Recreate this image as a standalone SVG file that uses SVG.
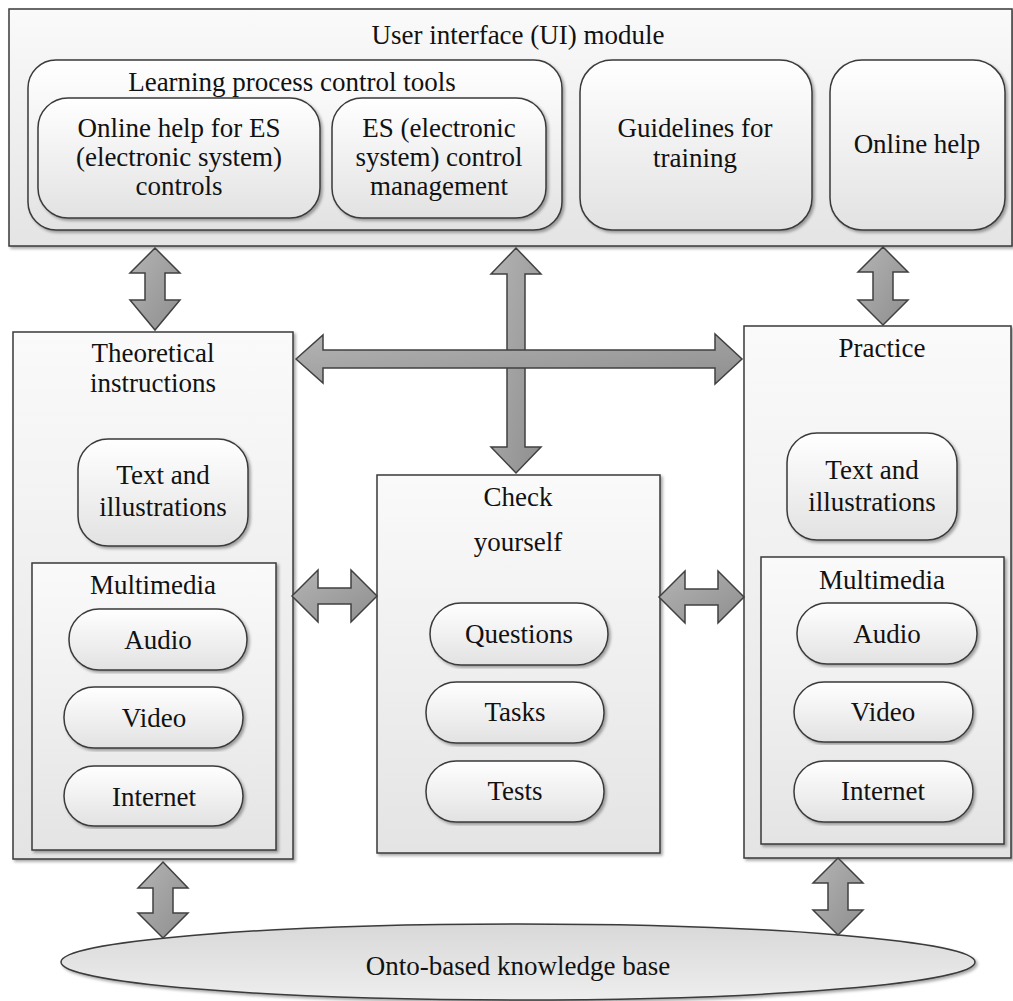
<svg xmlns="http://www.w3.org/2000/svg" width="1013" height="1001" viewBox="0 0 1013 1001">
<defs>
<linearGradient id="g" x1="0" y1="0" x2="0" y2="1">
<stop offset="0" stop-color="#fafafa"/>
<stop offset="1" stop-color="#e4e4e4"/>
</linearGradient>
<linearGradient id="gp" x1="0" y1="0" x2="0" y2="1">
<stop offset="0" stop-color="#ffffff"/>
<stop offset="1" stop-color="#e2e2e2"/>
</linearGradient>
<linearGradient id="ga" x1="0" y1="0" x2="1" y2="1">
<stop offset="0" stop-color="#b4b4b4"/>
<stop offset="1" stop-color="#8e8e8e"/>
</linearGradient>
<linearGradient id="ge" x1="0" y1="0" x2="0" y2="1">
<stop offset="0" stop-color="#d8d8d8"/>
<stop offset="1" stop-color="#eeeeee"/>
</linearGradient>
<filter id="sh" x="-5%" y="-5%" width="110%" height="110%">
<feDropShadow dx="2" dy="2" stdDeviation="1.5" flood-color="#000" flood-opacity="0.35"/>
</filter>
</defs>
<style>
.box{fill:url(#g);stroke:#3a3a3a;stroke-width:1.5;filter:url(#sh)}
.pill{fill:url(#gp);stroke:#3a3a3a;stroke-width:1.5;filter:url(#sh)}
.arr{fill:url(#ga);stroke:#404040;stroke-width:1.5;stroke-linejoin:miter}
svg text.t{font-family:'Liberation Serif','Times New Roman',serif;font-size:27px;fill:#111;text-anchor:middle}
</style>
<rect width="1013" height="1001" fill="#ffffff"/>

<g id="ui-module">
<rect class="box" x="9" y="9" width="1003" height="237"/>
<text class="t" font-family="Liberation Serif" x="518" y="44">User interface (UI) module</text>
</g>
<g id="learning-tools">
<rect class="pill" x="28" y="60" width="534" height="170" rx="28"/>
<text class="t" font-family="Liberation Serif" x="292" y="91">Learning process control tools</text>
</g>
<g id="online-help-es">
<rect class="pill" x="38" y="98" width="282" height="120" rx="30"/>
<text class="t" font-family="Liberation Serif" x="179" y="137">Online help for ES</text>
<text class="t" font-family="Liberation Serif" x="179" y="166">(electronic system)</text>
<text class="t" font-family="Liberation Serif" x="179" y="195">controls</text>
</g>
<g id="es-control">
<rect class="pill" x="332" y="98" width="214" height="120" rx="30"/>
<text class="t" font-family="Liberation Serif" x="439" y="137">ES (electronic</text>
<text class="t" font-family="Liberation Serif" x="439" y="166">system) control</text>
<text class="t" font-family="Liberation Serif" x="439" y="195">management</text>
</g>
<g id="guidelines">
<rect class="pill" x="580" y="60" width="232" height="170" rx="32"/>
<text class="t" font-family="Liberation Serif" x="695" y="137">Guidelines for</text>
<text class="t" font-family="Liberation Serif" x="695" y="167">training</text>
</g>
<g id="online-help">
<rect class="pill" x="830" y="60" width="175" height="170" rx="32"/>
<text class="t" font-family="Liberation Serif" x="917" y="153">Online help</text>
</g>

<g id="theoretical">
<rect class="box" x="13" y="332" width="280" height="527"/>
<text class="t" font-family="Liberation Serif" x="153" y="362">Theoretical</text>
<text class="t" font-family="Liberation Serif" x="153" y="392">instructions</text>
</g>
<g id="theo-text">
<rect class="pill" x="78" y="439" width="170" height="107" rx="30"/>
<text class="t" font-family="Liberation Serif" x="163" y="484">Text and</text>
<text class="t" font-family="Liberation Serif" x="163" y="516">illustrations</text>
</g>
<g id="theo-multimedia">
<rect class="box" x="32" y="563" width="244" height="287"/>
<text class="t" font-family="Liberation Serif" x="153" y="594">Multimedia</text>
</g>
<g id="theo-audio">
<rect class="pill" x="69" y="609" width="178" height="61" rx="30"/>
<text class="t" font-family="Liberation Serif" x="158" y="649">Audio</text>
</g>
<g id="theo-video">
<rect class="pill" x="64" y="687" width="179" height="61" rx="30"/>
<text class="t" font-family="Liberation Serif" x="154" y="727">Video</text>
</g>
<g id="theo-internet">
<rect class="pill" x="64" y="766" width="179" height="60" rx="30"/>
<text class="t" font-family="Liberation Serif" x="154" y="806">Internet</text>
</g>

<g id="check">
<rect class="box" x="377" y="475" width="283" height="378"/>
<text class="t" font-family="Liberation Serif" x="518" y="506">Check</text>
<text class="t" font-family="Liberation Serif" x="518" y="551">yourself</text>
</g>
<g id="questions">
<rect class="pill" x="430" y="603" width="178" height="62" rx="31"/>
<text class="t" font-family="Liberation Serif" x="519" y="643">Questions</text>
</g>
<g id="tasks">
<rect class="pill" x="426" y="682" width="178" height="61" rx="30"/>
<text class="t" font-family="Liberation Serif" x="515" y="721">Tasks</text>
</g>
<g id="tests">
<rect class="pill" x="426" y="761" width="178" height="61" rx="30"/>
<text class="t" font-family="Liberation Serif" x="515" y="800">Tests</text>
</g>

<g id="practice">
<rect class="box" x="744" y="326" width="267" height="532"/>
<text class="t" font-family="Liberation Serif" x="882" y="357">Practice</text>
</g>
<g id="prac-text">
<rect class="pill" x="787" y="433" width="170" height="107" rx="30"/>
<text class="t" font-family="Liberation Serif" x="872" y="479">Text and</text>
<text class="t" font-family="Liberation Serif" x="872" y="511">illustrations</text>
</g>
<g id="prac-multimedia">
<rect class="box" x="761" y="557" width="243" height="287"/>
<text class="t" font-family="Liberation Serif" x="882" y="589">Multimedia</text>
</g>
<g id="prac-audio">
<rect class="pill" x="797" y="603" width="180" height="61" rx="30"/>
<text class="t" font-family="Liberation Serif" x="887" y="643">Audio</text>
</g>
<g id="prac-video">
<rect class="pill" x="794" y="682" width="179" height="60" rx="30"/>
<text class="t" font-family="Liberation Serif" x="883" y="721">Video</text>
</g>
<g id="prac-internet">
<rect class="pill" x="794" y="761" width="179" height="61" rx="30"/>
<text class="t" font-family="Liberation Serif" x="883" y="800">Internet</text>
</g>

<g id="knowledge-base">
<ellipse cx="518" cy="962" rx="457" ry="38" fill="url(#ge)" stroke="#3a3a3a" stroke-width="1.5" filter="url(#sh)"/>
<text class="t" font-family="Liberation Serif" x="518" y="975">Onto-based knowledge base</text>
</g>

<g id="connectors">
<path class="arr" d="M155,248 L180,273 L165,273 L165,300 L180,300 L155,330 L130,300 L145,300 L145,273 L130,273 Z"/>
<path class="arr" d="M883,247 L908,272 L893,272 L893,300 L908,300 L883,325 L858,300 L873,300 L873,272 L858,272 Z"/>
<path class="arr" d="M516,248 L541,274 L525,274 L525,447 L541,447 L516,473 L491,447 L507,447 L507,274 L491,274 Z"/>
<path class="arr" d="M296,359 L323,335 L323,350 L715,350 L715,334 L742,359 L715,384 L715,368 L323,368 L323,383 Z"/>
<path class="arr" d="M292,596 L318,570 L318,588 L351,588 L351,570 L377,596 L351,622 L351,604 L318,604 L318,622 Z"/>
<path class="arr" d="M659,597 L685,571 L685,589 L718,589 L718,571 L744,597 L718,623 L718,605 L685,605 L685,623 Z"/>
<path class="arr" d="M163,862 L188,888 L173,888 L173,913 L188,913 L163,938 L138,913 L153,913 L153,888 L138,888 Z"/>
<path class="arr" d="M838,858 L863,883 L848,883 L848,910 L863,910 L838,935 L813,910 L828,910 L828,883 L813,883 Z"/>
</g>
</svg>
